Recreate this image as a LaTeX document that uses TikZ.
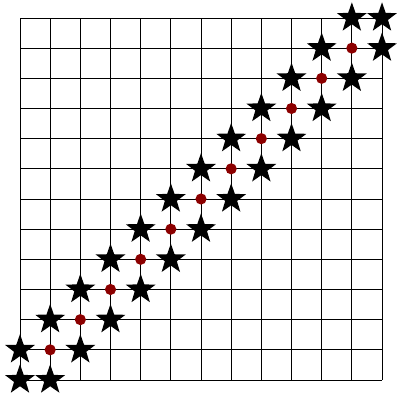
\documentclass[tikz,border=0pt]{standalone}
\usepackage{tikz}
\usetikzlibrary{shapes.geometric}
\definecolor{dotred}{RGB}{140,0,0}
\tikzset{
  bigstar/.style={star, star points=5, star point ratio=2.5, fill=black, draw=none, inner sep=0pt, minimum size=1.04cm},
  reddot/.style={circle, fill=dotred, draw=none, inner sep=0pt, minimum size=0.37cm}
}
\begin{document}
\begin{tikzpicture}
\useasboundingbox (-0.663,-0.597) rectangle (12.496,12.596);

% Grid
\draw[black, line width=0.7pt] (0,0) grid (12,12);

% Stars on the corners and beside the diagonal
\node[bigstar] (s0) at (0,0) {};
\node[bigstar] (s12) at (12,12) {};
\foreach \i [evaluate=\i as \j using int(\i+1)] in {0,...,11} {
    \node[bigstar] (a\i) at (\i,\j) {};
    \node[bigstar] (b\i) at (\j,\i) {};
}

% Dots on the diagonal
\foreach \i in {1,...,11}
    \node[reddot] (d\i) at (\i,\i) {};
\end{tikzpicture}
\end{document}
